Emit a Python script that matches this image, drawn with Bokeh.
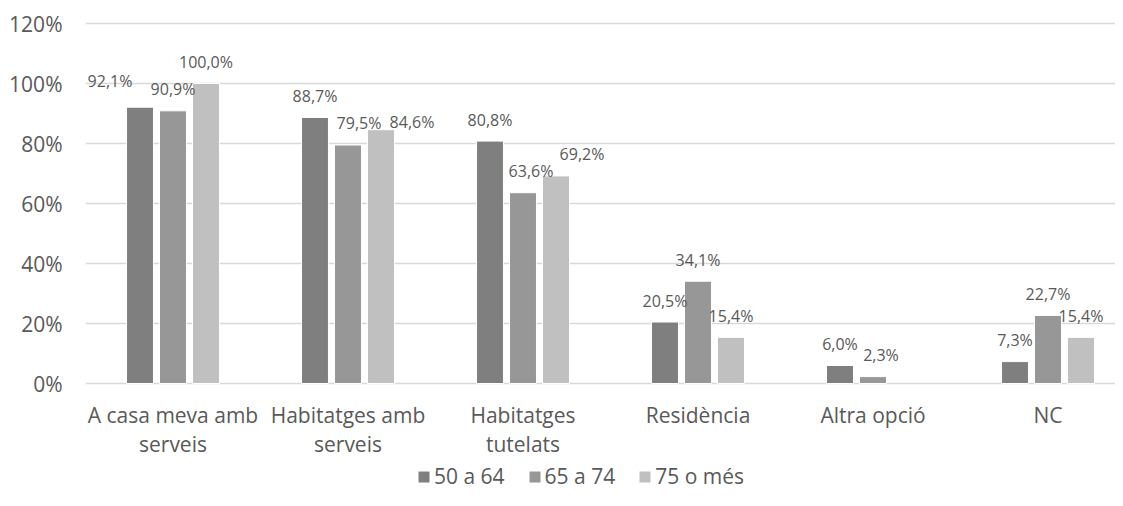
from bokeh.plotting import figure
from bokeh.models import (ColumnDataSource, Range1d, FixedTicker, LabelSet,
                          Legend, LegendItem)
from bokeh.core.properties import value
from bokeh.embed import file_html
from bokeh.resources import INLINE

# ---------------- data ----------------
categories = ["A casa meva amb\nserveis", "Habitatges amb\nserveis",
              "Habitatges\ntutelats", "Residència", "Altra opció", "NC"]
series_names = ["50 a 64", "65 a 74", "75 o més"]
vals_50_64 = [92.1, 88.7, 80.8, 20.5, 6.0, 7.3]
vals_65_74 = [90.9, 79.5, 63.6, 34.1, 2.3, 22.7]
vals_75_mes = [100.0, 84.6, 69.2, 15.4, None, 15.4]
y_ticks = [0, 20, 40, 60, 80, 100, 120]

# ---------------- style ----------------
FONT = "Open Sans"
TEXT = "#595959"
GRID = "#d9d9d9"
colors = ["#7f7f7f", "#979797", "#c0c0c0"]
W, H = 1115, 490
left_px, top_px = 85, 20
bar_step = 0.1886      # category units between bars of a group
bar_width = 0.154
cat_px = 175           # pixel width of one category
px_per_unit = 3.0      # vertical pixels per percentage point
y_top = 121
frame_w = W - left_px
frame_h = H - top_px
label_lift = 21.5      # px above bar top (label centre)
cat_line1_px = 39      # baseline of first category line below zero line
cat_line_gap = 29      # px between category label lines
# manual label nudges (px, right / up) as in the reference: (series, category)
label_nudge = {(0, 0): (-30, 5), (1, 1): (11, 1), (2, 1): (31, -14),
               (1, 2): (8, 0), (2, 2): (26, 0), (1, 4): (8, 0)}

series = [vals_50_64, vals_65_74, vals_75_mes]
n = len(categories)

p = figure(width=W, height=H,
           x_range=Range1d(-0.5, -0.5 + frame_w / cat_px),
           y_range=Range1d(y_top - frame_h / px_per_unit, y_top),
           output_backend="svg", toolbar_location=None,
           min_border_left=left_px, min_border_right=0,
           min_border_top=top_px, min_border_bottom=0)
p.outline_line_color = None
p.background_fill_color = "white"
p.border_fill_color = "white"
p.xgrid.grid_line_color = None
p.ygrid.ticker = FixedTicker(ticks=y_ticks)
p.ygrid.grid_line_color = GRID
p.ygrid.grid_line_width = 1.5
p.xaxis.visible = False

legend_items = []
for s, vals in enumerate(series):
    off = (s - 1) * bar_step
    xs, tops, labels, dx, dy = [], [], [], [], []
    for i, v in enumerate(vals):
        if v is None:
            continue
        xs.append(i + off)
        tops.append(v)
        labels.append(f"{v:.1f}".replace(".", ",") + "%")
        nx, ny = label_nudge.get((s, i), (0, 0))
        dx.append(nx)
        dy.append(label_lift + ny)
    src = ColumnDataSource(dict(x=xs, top=tops, label=labels, dx=dx, dy=dy))
    r = p.vbar(x="x", top="top", bottom=0, width=bar_width, source=src,
               fill_color=colors[s], line_color="white", line_width=1)
    legend_items.append(LegendItem(label=series_names[s], renderers=[r]))
    p.add_layout(LabelSet(x="x", y="top", text="label", source=src,
                          x_offset="dx", y_offset="dy",
                          text_align="center", text_baseline="middle",
                          text_font=value(FONT), text_font_size="16px",
                          text_color=TEXT))

# category labels (x axis) under the zero line, one LabelSet per line
lines = [c.split("\n") for c in categories]
max_lines = max(len(l) for l in lines)
for k in range(max_lines):
    xs = [i for i, l in enumerate(lines) if len(l) > k]
    txt = [l[k] for l in lines if len(l) > k]
    src = ColumnDataSource(dict(x=xs, y=[0] * len(xs), label=txt))
    p.add_layout(LabelSet(x="x", y="y", text="label", source=src,
                          y_offset=-(cat_line1_px + k * cat_line_gap),
                          text_align="center", text_baseline="alphabetic",
                          text_font=value(FONT), text_font_size="21px",
                          text_color=TEXT))

# y axis
p.yaxis.ticker = FixedTicker(ticks=y_ticks)
p.yaxis.major_label_overrides = {t: f"{t}%" for t in y_ticks}
p.yaxis.axis_line_color = None
p.yaxis.major_tick_line_color = None
p.yaxis.major_tick_out = 0
p.yaxis.major_tick_in = 0
p.yaxis.minor_tick_line_color = None
p.yaxis.major_label_text_font = FONT
p.yaxis.major_label_text_font_size = "21px"
p.yaxis.major_label_text_color = TEXT
p.yaxis.major_label_standoff = 23

legend = Legend(items=legend_items, orientation="horizontal",
                location=(331, 0), border_line_color=None,
                background_fill_alpha=0,
                label_text_font=FONT, label_text_font_size="21px",
                label_text_color=TEXT, glyph_width=15, glyph_height=15,
                label_standoff=3, spacing=22, padding=0, margin=0)
p.add_layout(legend)

open("out.html", "w").write(file_html(p, INLINE))
